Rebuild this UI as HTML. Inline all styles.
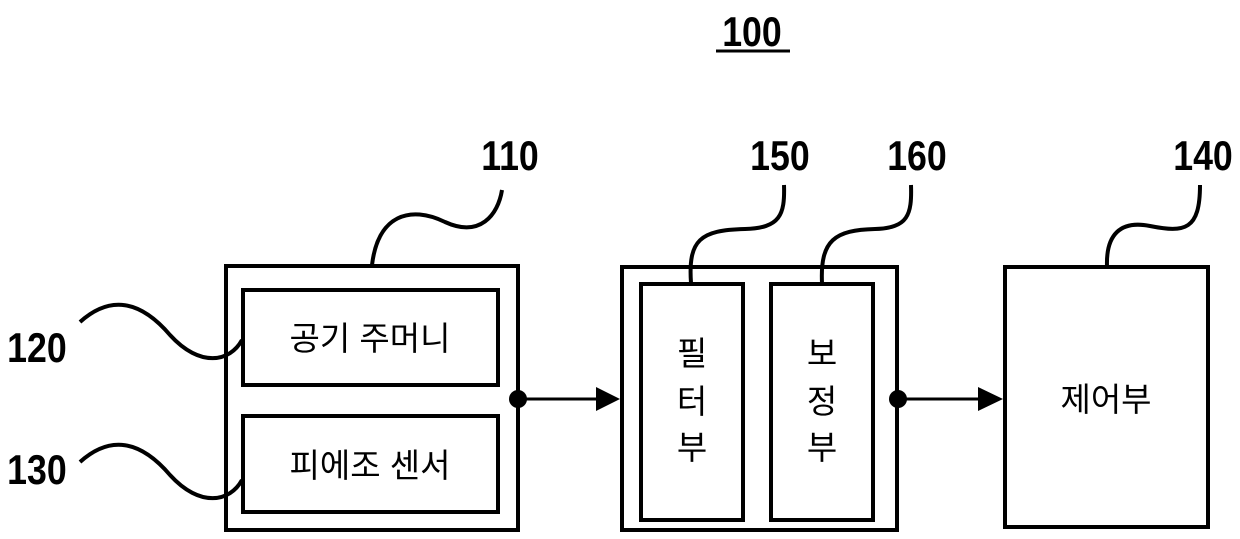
<!DOCTYPE html>
<html><head><meta charset="utf-8"><style>
body{margin:0;background:#fff;}
svg text{font-family:"Liberation Sans","Noto Sans CJK KR",sans-serif;}
.n{font-weight:bold;font-size:42px;}
.k{font-size:33px;}
</style></head><body>
<svg width="1240" height="534" viewBox="0 0 1240 534" xmlns="http://www.w3.org/2000/svg">
<g fill="none" stroke="#000" stroke-width="4">
<rect x="226" y="266" width="292" height="264"/>
<rect x="243" y="290" width="255" height="95"/>
<rect x="243" y="416" width="255" height="96"/>
<rect x="622" y="267" width="275" height="263"/>
<rect x="641" y="284" width="102" height="236"/>
<rect x="771" y="284" width="102" height="236"/>
<rect x="1005" y="267" width="203" height="260"/>
<path d="M372 265 C378 215 410 205 445 222 C480 238 498 215 502 190"/>
<path d="M691 283 C688 240 700 230 745 229 C780 228 785 215 784 185"/>
<path d="M822 283 C820 240 835 230 875 229 C908 228 912 215 911 185"/>
<path d="M1107 266 C1106 235 1120 220 1150 226 C1185 233 1200 230 1200 185"/>
<path d="M80 322 C110 295 140 300 170 335 C200 368 230 362 242 340"/>
<path d="M80 462 C110 435 140 440 170 475 C200 508 230 502 242 480"/>
<line x1="518" y1="399" x2="598" y2="399" stroke-width="3"/>
<line x1="897" y1="399" x2="980" y2="399" stroke-width="3"/>
</g>
<circle cx="518" cy="399" r="9"/>
<circle cx="898" cy="399" r="9"/>
<polygon points="596,387 620,399 596,411"/>
<polygon points="978,387 1003,399 978,411"/>
<g transform="scale(0.85,1)">
<text class="n" x="884.7" y="46" text-anchor="middle">100</text>
<text class="n" x="600" y="170" text-anchor="middle">110</text>
<text class="n" x="917.6" y="170" text-anchor="middle">150</text>
<text class="n" x="1078.8" y="170" text-anchor="middle">160</text>
<text class="n" x="1415.3" y="170" text-anchor="middle">140</text>
<text class="n" x="43.5" y="362" text-anchor="middle">120</text>
<text class="n" x="43.5" y="484" text-anchor="middle">130</text>
</g>
<line x1="716" y1="51" x2="790" y2="51" stroke="#000" stroke-width="3"/>
<text class="k" x="370" y="350" text-anchor="middle">공기 주머니</text>
<text class="k" x="370" y="477" text-anchor="middle">피에조 센서</text>
<text class="k" x="692" y="365" text-anchor="middle">필</text>
<text class="k" x="692" y="413" text-anchor="middle">터</text>
<text class="k" x="692" y="459" text-anchor="middle">부</text>
<text class="k" x="822" y="365" text-anchor="middle">보</text>
<text class="k" x="822" y="413" text-anchor="middle">정</text>
<text class="k" x="822" y="459" text-anchor="middle">부</text>
<text class="k" x="1106" y="411" text-anchor="middle">제어부</text>
</svg>
</body></html>
